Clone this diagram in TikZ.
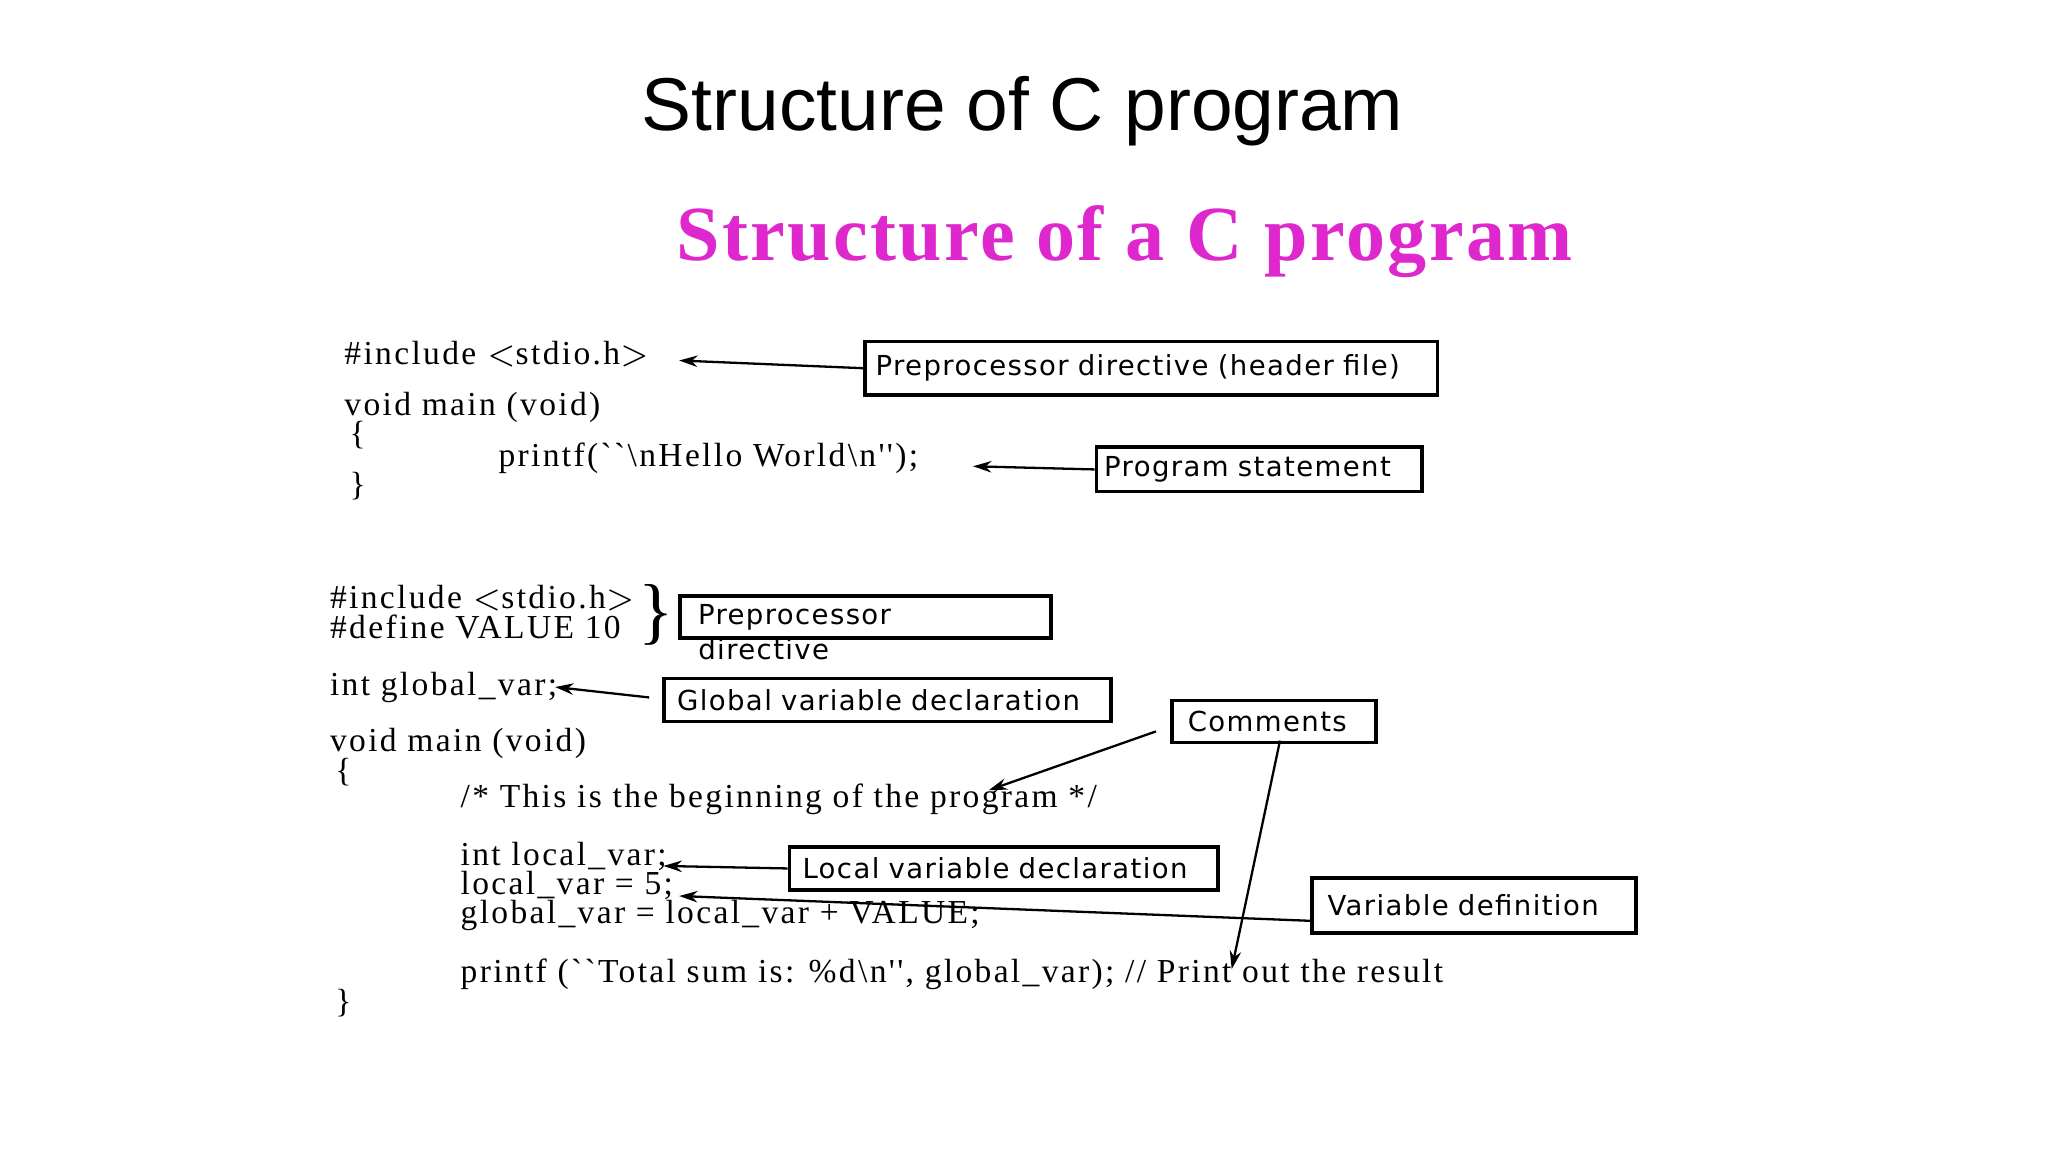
\documentclass[tikz,border=0pt]{standalone}
\usepackage{fontspec}
\setmainfont{Liberation Serif}
\newfontfamily\titlefont{Liberation Sans}
\newfontfamily\boxfont[LetterSpace=5]{DejaVu Sans}
\newfontfamily\codefont[LetterSpace=7]{Liberation Serif}
\usetikzlibrary{arrows.meta}
\definecolor{mag}{RGB}{222,40,205}
\begin{document}
\begin{tikzpicture}[x=0.01cm,y=-0.01cm,
  code/.style={anchor=west,inner sep=0pt,font=\codefont\fontsize{7.3}{8}\selectfont},
  lbl/.style={draw,thick,anchor=north west,inner sep=0pt,align=left,font=\boxfont\fontsize{6}{7}\selectfont},
  arr/.style={-{Stealth[length=4pt,width=2.5pt]},line width=0.5pt}]
\useasboundingbox (0,0) rectangle (1568,882);
\node[font=\titlefont\fontsize{16.3}{19}\selectfont] (title) at (783,85) {Structure of C program};
\node[font=\fontsize{17}{19}\selectfont\bfseries,text=mag] (sub) at (861,185) {\addfontfeature{LetterSpace=3}Structure of a C program};
% block 1
\node[code] (c1) at (263,271) {\#include $<$stdio.h$>$};
\node[code] (c2) at (263,312) {void main (void)};
\node[code] (c3) at (267,333) {\{};
\node[code] (c4) at (381,351) {printf(``\textbackslash nHello World\textbackslash n'');};
\node[code] (c5) at (267,372) {\}};
\node[lbl,text width=4.38cm,minimum height=0.41cm] (b1) at (661,260) {\hspace*{0.08cm}Preprocessor directive (header file)};
\coordinate (a1) at (520,276);
\draw[arr] (b1.west) -- (a1);
\node[lbl,text width=2.49cm,minimum height=0.34cm] (b2) at (838,341) {\hspace*{0.06cm}Program statement};
\coordinate (a2) at (745,357);
\draw[arr] (b2.west) -- (a2);
% block 2
\node[code] (d1) at (252,458) {\#include $<$stdio.h$>$};
\node[code] (d2) at (252,480) {\#define VALUE 10};
\node[anchor=center,font=\fontsize{16}{16}\selectfont] (br) at (502,471) {\}};
\node[lbl,text width=2.84cm,minimum height=0.32cm] (b3) at (519,455) {\hspace*{0.14cm}Preprocessor};
\node[anchor=west,inner sep=0pt,font=\boxfont\fontsize{6}{7}\selectfont] (b3b) at (534,497) {directive};
\node[code] (d3) at (252,526) {int global\_var;};
\node[lbl,text width=3.42cm,minimum height=0.33cm] (b4) at (507,518) {\hspace*{0.1cm}Global variable declaration};
\coordinate (f4) at (497,534); \coordinate (a4) at (425,526);
\draw[arr] (f4) -- (a4);
\node[code] (d4) at (252,569) {void main (void)};
\node[code] (d5) at (256,591) {\{};
\node[code] (d6) at (352,612) {/* This is the beginning of the program */};
\node[code] (d7) at (352,656) {int local\_var;};
\node[code] (d8) at (352,678) {local\_var = 5;};
\node[code] (d9) at (352,701) {global\_var = local\_var + VALUE;};
\node[code] (d10) at (352,746) {printf (``Total sum is: \%d\textbackslash n'', global\_var); // Print out the result};
\node[code] (d11) at (256,768) {\}};
\node[lbl,text width=1.56cm,minimum height=0.32cm] (b5) at (896,535) {\hspace*{0.12cm}Comments};
\coordinate (f5) at (885,560); \coordinate (a5) at (757,605);
\coordinate (g5) at (980,567); \coordinate (a6) at (943,742);
\draw[arr] (f5) -- (a5);
\draw[arr] (g5) -- (a6);
\node[lbl,text width=3.28cm,minimum height=0.33cm] (b6) at (603,647) {\hspace*{0.1cm}Local variable declaration};
\coordinate (a7) at (508,663);
\draw[arr] (b6.west) -- (a7);
\node[lbl,text width=2.48cm,minimum height=0.42cm] (b7) at (1003,671) {\hspace*{0.12cm}Variable definition};
\coordinate (f8) at (1003,705); \coordinate (a8) at (520,686);
\draw[arr] (f8) -- (a8);
\end{tikzpicture}
\end{document}
